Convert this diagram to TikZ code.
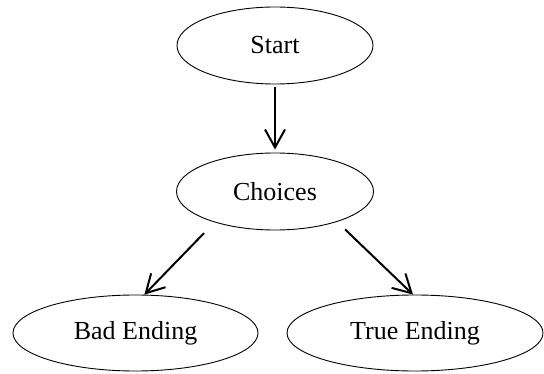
\documentclass[tikz,border=0pt]{standalone}
\usepackage{fontspec}
\setmainfont{Liberation Serif}
\usepackage{tikz}
\usetikzlibrary{shapes}
\usetikzlibrary{arrows.meta}

\begin{document}
\begin{tikzpicture}[x=1pt, y=1pt, every node/.style={draw, ellipse, line width=0.9pt, inner sep=0pt, minimum height=77pt, font=\fontsize{26}{30}\selectfont}]
\useasboundingbox (0,0) rectangle (544,-374);
\node[minimum width=196pt] (start) at (275,-45.5) {Start};
\node[minimum width=197pt] (choices) at (275,-191.5) {Choices};
\node[minimum width=245pt, minimum height=76pt] (bad) at (135.5,-333) {Bad Ending};
\node[minimum width=256pt, minimum height=76pt] (trueend) at (415,-333) {True Ending};

\draw[line width=2pt, -{Straight Barb[length=18pt,width=20pt]}, shorten <=3pt, shorten >=3pt] (start.south) -- (choices.north);
\draw[line width=2pt, -{Straight Barb[length=18pt,width=20pt]}, shorten <=15pt] (choices.207) -- (bad.77);
\draw[line width=2pt, -{Straight Barb[length=18pt,width=20pt]}, shorten <=11pt] (choices.334) -- (trueend.93);
\end{tikzpicture}
\end{document}
